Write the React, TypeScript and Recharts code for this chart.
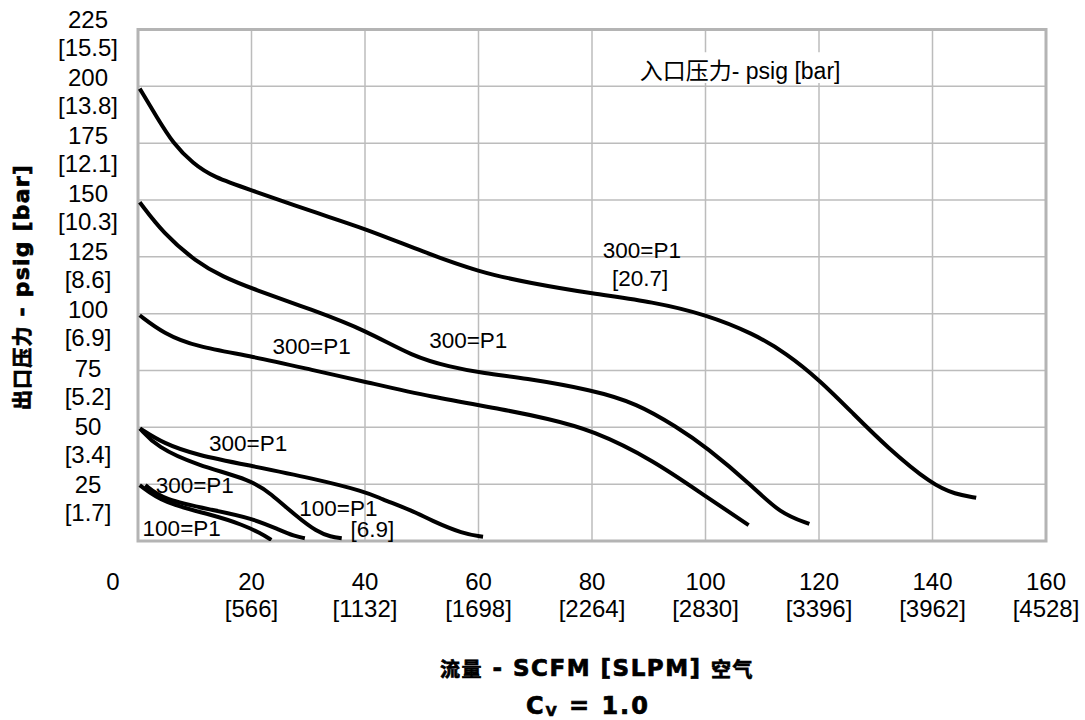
import React from 'react';
import {
  LineChart,
  Line,
  XAxis,
  YAxis,
  CartesianGrid,
  ReferenceArea,
  ReferenceDot,
  Customized,
} from 'recharts';

// axis ticks: flow in SCFM [SLPM], outlet pressure in psig [bar]
const flowTicks = [0, 20, 40, 60, 80, 100, 120, 140, 160];
const flowSlpm = ['', '[566]', '[1132]', '[1698]', '[2264]', '[2830]', '[3396]', '[3962]', '[4528]'];
const pressureTicks = [0, 25, 50, 75, 100, 125, 150, 175, 200, 225];
const pressureBar = ['', '[1.7]', '[3.4]', '[5.2]', '[6.9]', '[8.6]', '[10.3]', '[12.1]', '[13.8]', '[15.5]'];

// curves (flow, outlet pressure)
const c200Flow = [0.3, 3.3, 6.2, 9.7, 13.3, 20.1, 30.9, 40.1, 50.3, 60.1, 69, 80.1, 90.8, 100.1, 108.4, 114.3, 120.1, 126, 131.9, 140, 144, 147.7];
const c200Psig = [199, 186.5, 174.8, 166, 160, 154.2, 144.7, 137.4, 127.1, 118.3, 113.5, 108.8, 105.2, 99.6, 91.3, 82.5, 70.8, 56.1, 41.4, 24.6, 20.6, 19];

const c150Flow = [0.3, 4.5, 10.3, 15, 20.1, 30.9, 40.1, 48.5, 55, 60.1, 68, 80.1, 87.9, 94.9, 100.1, 108.4, 113.1, 118.3];
const c150Psig = [149, 135.2, 122.7, 116.2, 111, 101.5, 92.7, 81, 76.6, 74.1, 71.7, 66.4, 60.5, 50.2, 41.4, 23.9, 12.2, 7.5];

const c100Flow = [0.3, 4.5, 10.3, 20.1, 30.9, 40.1, 51.5, 65, 72, 80.1, 90.8, 100.1, 107.6];
const c100Psig = [99.3, 91.3, 85.4, 81.3, 75.1, 70, 63.4, 57.6, 53.9, 48.8, 35.6, 19.5, 7];

const c50aFlow = [0.35, 4.5, 10.3, 20.1, 30.9, 40.1, 42.6, 48.5, 51.5, 57.3, 60.8];
const c50aPsig = [49.5, 42.9, 37.8, 33, 27.5, 21.7, 18.8, 13.2, 9.2, 3.1, 1.9];

const c50bFlow = [0.35, 3.3, 10.3, 20.1, 23.3, 28, 31.5, 34, 35.9];
const c50bPsig = [49.5, 41.4, 33.4, 26.8, 21, 10.7, 4.1, 1.8, 1.2];

const c25aFlow = [1.3, 4.5, 13.3, 20.1, 25, 27.5, 29.4];
const c25aPsig = [24.6, 18, 13.6, 10, 4.8, 2.2, 1.2];

const c25bFlow = [0.3, 4.5, 13.3, 18.6, 21.5, 23.5];
const c25bPsig = [24.6, 16.6, 11.4, 7, 3.5, 0.5];

// curve annotations
const noteText = ['300=P1', '[20.7]', '300=P1', '300=P1', '300=P1', '300=P1', '100=P1', '[6.9]', '100=P1'];
const noteFlow = [88.8, 88.5, 30.6, 58.2, 19.4, 10.0, 35.3, 41.3, 7.7];
const notePsig = [127.9, 115.9, 85.7, 88.3, 42.9, 24.6, 14.6, 5.3, 5.6];

const toPoints = (xs: number[], ys: number[]) => xs.map((q, i) => ({ q, p: ys[i] }));

const curves = [
  toPoints(c200Flow, c200Psig),
  toPoints(c150Flow, c150Psig),
  toPoints(c100Flow, c100Psig),
  toPoints(c50aFlow, c50aPsig),
  toPoints(c50bFlow, c50bPsig),
  toPoints(c25aFlow, c25aPsig),
  toPoints(c25bFlow, c25bPsig),
];

const FONT = '"Liberation Sans", Arial, "Noto Sans CJK SC", sans-serif';
const BOLD = '"DejaVu Sans", "Noto Sans CJK SC", sans-serif';
const CJK = '"Noto Sans CJK SC", sans-serif';
const GRID = '#bcbcbc';

const FlowTick = (props: any) => {
  const { x, payload } = props;
  const i = flowTicks.indexOf(payload.value);
  const cx = payload.value === 0 ? x - 25 : x;
  return (
    <g fontFamily={FONT} fontSize={24} fill='#000' textAnchor='middle'>
      <text x={cx} y={581} dominantBaseline='central'>{payload.value}</text>
      {flowSlpm[i] && (
        <text x={cx} y={608} dominantBaseline='central'>{flowSlpm[i]}</text>
      )}
    </g>
  );
};

const PressureTick = (props: any) => {
  const { y, payload } = props;
  if (payload.value === 0) return null;
  const i = pressureTicks.indexOf(payload.value);
  const cy = y - (payload.value - 25) / 20;
  return (
    <g fontFamily={FONT} fontSize={24} fill='#000' textAnchor='middle'>
      <text x={88} y={cy} dominantBaseline='central'>{payload.value}</text>
      <text x={88} y={cy + 28} dominantBaseline='central'>{pressureBar[i]}</text>
    </g>
  );
};

const Titles = () => (
  <g fill='#000' stroke='#000' strokeWidth={0.7} fontWeight='bold'>
    <text
      transform='translate(21 287) rotate(-90)'
      textAnchor='middle'
      dominantBaseline='central'
      fontFamily={BOLD}
      fontSize={22}
      letterSpacing={1.2}
    >
      <tspan fontFamily={CJK} fontSize={20}>出口压力</tspan>
      <tspan> - psig [bar]</tspan>
    </text>
    <text
      x={597}
      y={668}
      textAnchor='middle'
      dominantBaseline='central'
      fontFamily={BOLD}
      fontSize={23}
      letterSpacing={1.5}
    >
      <tspan fontFamily={CJK} fontSize={20}>流量</tspan>
      <tspan> - SCFM [SLPM] </tspan>
      <tspan fontFamily={CJK} fontSize={20}>空气</tspan>
    </text>
    <text
      x={588}
      y={706}
      textAnchor='middle'
      dominantBaseline='central'
      fontFamily={BOLD}
      fontSize={24}
      letterSpacing={2}
    >
      C<tspan fontSize={14} dy={5}>V</tspan>
      <tspan dy={-5}> = 1.0</tspan>
    </text>
  </g>
);

export default function App() {
  return (
    <div style={{ position: 'absolute', left: 0, top: 0, background: '#fff' }}>
      <LineChart
        width={1085}
        height={720}
        margin={{ top: 29.5, right: 39, bottom: 99, left: 8 }}
      >
        <CartesianGrid stroke={GRID} strokeWidth={1.5} />
        <XAxis
          type='number'
          dataKey='q'
          domain={[0, 160]}
          ticks={flowTicks}
          allowDataOverflow
          axisLine={false}
          tickLine={false}
          height={80}
          tick={<FlowTick />}
          interval={0}
        />
        <YAxis
          type='number'
          dataKey='p'
          domain={[0, 225]}
          ticks={pressureTicks}
          allowDataOverflow
          axisLine={false}
          tickLine={false}
          width={130}
          tick={<PressureTick />}
          interval={0}
        />
        <ReferenceArea x1={0} x2={160} y1={0} y2={225} fill='none' stroke='#b4b4b4' strokeWidth={3} />
        <ReferenceArea x1={85.8} x2={125.8} y1={201.5} y2={215} fill='#fff' fillOpacity={1} stroke='none' />
        <ReferenceDot
          x={106.1}
          y={207}
          r={0}
          fill='none'
          stroke='none'
          label={{ value: '入口压力- psig [bar]', position: 'center', fontSize: 23, fill: '#000', fontFamily: FONT }}
        />
        {curves.map((pts, i) => (
          <Line
            key={i}
            data={pts}
            dataKey='p'
            type='basis'
            stroke='#000'
            strokeWidth={4}
            dot={false}
            activeDot={false}
            isAnimationActive={false}
          />
        ))}
        {noteText.map((t, i) => (
          <ReferenceDot
            key={'n' + i}
            x={noteFlow[i]}
            y={notePsig[i]}
            r={0}
            fill='none'
            stroke='none'
            label={{ value: t, position: 'center', fontSize: 22.5, fill: '#000', fontFamily: FONT }}
          />
        ))}
        <Customized component={Titles} />
      </LineChart>
    </div>
  );
}
